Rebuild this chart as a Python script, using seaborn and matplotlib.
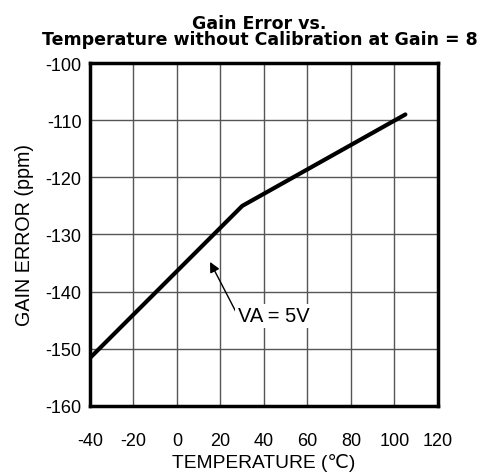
import numpy as np
import pandas as pd

import matplotlib
matplotlib.use("Agg")
import matplotlib.pyplot as plt
import seaborn as sns

#####################################
### DATA
#####################################
temperature = [-40, 30, 105]
gain_error = [-151.6, -125.0, -109.0]
x_ticks = [-40, -20, 0, 20, 40, 60, 80, 100, 120]
y_ticks = [-160, -150, -140, -130, -120, -110, -100]

df = pd.DataFrame({"Temperature": temperature, "GainError": gain_error})

#####################################
### PLOT BUILD
#####################################
sns.set_style("white")
plt.rcParams['font.family'] = ['Liberation Sans', 'DejaVu Sans']
plt.rcParams['axes.unicode_minus'] = False
plt.rcParams['text.color'] = 'black'
plt.rcParams['axes.labelcolor'] = 'black'

fig = plt.figure(figsize=(4.82, 4.77), dpi=100)
ax = fig.add_axes([0.1867, 0.1468, 0.722, 0.719])

sns.lineplot(x="Temperature", y="GainError", data=df, ax=ax,
             color="black", linewidth=3, zorder=3)

ax.set(xlim=(-40, 120), ylim=(-160, -100))
ax.set_xticks(x_ticks)
ax.set_yticks(y_ticks)
ax.grid(True, color="#555555", linewidth=1)
ax.tick_params(axis="both", length=0, labelsize=13, colors="black")
ax.tick_params(axis="x", pad=19)
ax.tick_params(axis="y", pad=6)
for s in ax.spines.values():
    s.set_linewidth(2.5)
    s.set_color("black")

ax.set_xlabel("TEMPERATURE (\u2103)", fontsize=13.8, labelpad=2.5)
ax.set_ylabel("GAIN ERROR (ppm)", fontsize=14.2, labelpad=8)
ax.set_title("Gain Error vs.\nTemperature without Calibration at Gain = 8",
             fontsize=12.5, fontweight="bold", family="DejaVu Sans",
             color="black", linespacing=0.88, pad=13.5, x=0.487)

ax.annotate("VA = 5V", xy=(15.2, -134.8), xytext=(28, -144.2),
            fontsize=14.5, va="center", ha="left", zorder=4,
            bbox=dict(boxstyle="square,pad=0.12", fc="white", ec="none"),
            arrowprops=dict(arrowstyle="-|>", color="black", lw=1,
                            mutation_scale=15, shrinkA=0, shrinkB=0,
                            relpos=(0, 0.5)))

fig.savefig("out.png", dpi=100)
